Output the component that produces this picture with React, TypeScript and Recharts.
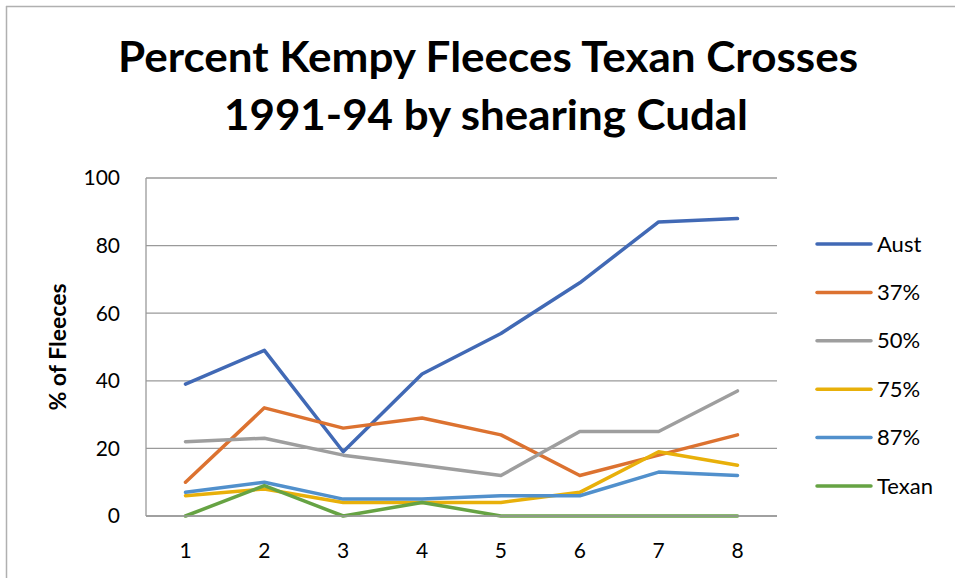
import React from "react";
import { LineChart, Line, XAxis, YAxis, CartesianGrid } from "recharts";

const categories = ["1", "2", "3", "4", "5", "6", "7", "8"];
const aust = [39, 49, 19, 42, 54, 69, 87, 88];
const pct37 = [10, 32, 26, 29, 24, 12, 18, 24];
const pct50 = [22, 23, 18, 15, 12, 25, 25, 37];
const pct75 = [6, 8, 4, 4, 4, 7, 19, 15];
const pct87 = [7, 10, 5, 5, 6, 6, 13, 12];
const texan = [0, 9, 0, 4, 0, 0, 0, 0];
const yTicks = [0, 20, 40, 60, 80, 100];

const seriesNames = ["Aust", "37%", "50%", "75%", "87%", "Texan"];
const seriesValues = [aust, pct37, pct50, pct75, pct87, texan];
const seriesColors = ["#4169B5", "#DC7230", "#9E9E9E", "#E8B00A", "#5190CC", "#66A343"];

const data = categories.map((cat, i) => {
  const row: Record<string, string | number> = { cat };
  seriesNames.forEach((name, s) => {
    row[name] = seriesValues[s][i];
  });
  return row;
});

const FONT = "Lato, 'Open Sans', sans-serif";
const GRID = "#9a9a9a";

export default function App() {
  return (
    <div
      style={{
        position: "absolute",
        left: 0,
        top: 0,
        width: 955,
        height: 578,
        overflow: "hidden",
        background: "#fff",
        fontFamily: FONT,
      }}
    >
      <LineChart
        width={955}
        height={578}
        data={data}
        margin={{ top: 178, right: 178, bottom: 22, left: 0 }}
      >
        <CartesianGrid vertical={false} stroke={GRID} strokeWidth={1.3} />
        <XAxis
          dataKey="cat"
          height={40}
          padding={{ left: 39.5, right: 39.5 }}
          tickLine={false}
          tickSize={0}
          tickMargin={27}
          axisLine={{ stroke: GRID, strokeWidth: 1.3 }}
          tick={{ fill: "#000", fontSize: 21, fontFamily: FONT }}
        />
        <YAxis
          width={146}
          domain={[0, 100]}
          ticks={yTicks}
          tickLine={false}
          tickSize={0}
          tickMargin={26}
          axisLine={{ stroke: GRID, strokeWidth: 1.3 }}
          tick={{ fill: "#000", fontSize: 21, fontFamily: FONT }}
        />
        {seriesNames.map((name, s) => (
          <Line
            key={name}
            type="linear"
            dataKey={name}
            stroke={seriesColors[s]}
            strokeWidth={3.5}
            strokeLinejoin="round"
            strokeLinecap="round"
            dot={false}
            isAnimationActive={false}
          />
        ))}
      </LineChart>

      {/* title, frame, axis title and legend */}
      <svg
        width={955}
        height={578}
        style={{ position: "absolute", left: 0, top: 0, pointerEvents: "none" }}
      >
        <line x1={6.5} y1={6} x2={6.5} y2={578} stroke="#b0b0b0" strokeWidth={1.5} />
        <line x1={6} y1={6.5} x2={955} y2={6.5} stroke="#b0b0b0" strokeWidth={1.5} />

        <text
          x={488}
          y={72}
          textAnchor="middle"
          fontFamily={FONT}
          fontWeight="bold"
          fontSize={42}
          textLength={740}
          lengthAdjust="spacingAndGlyphs"
        >
          Percent Kempy Fleeces Texan Crosses
        </text>
        <text
          x={486}
          y={130}
          textAnchor="middle"
          fontFamily={FONT}
          fontWeight="bold"
          fontSize={42}
          textLength={524}
          lengthAdjust="spacingAndGlyphs"
        >
          1991-94 by shearing Cudal
        </text>

        <text
          transform="translate(66, 347) rotate(-90)"
          textAnchor="middle"
          fontFamily={FONT}
          fontWeight="bold"
          fontSize={23}
        >
          % of Fleeces
        </text>

        {seriesNames.map((name, s) => {
          const cy = 244 + s * 48.4;
          return (
            <g key={name}>
              <line
                x1={817}
                y1={cy}
                x2={871}
                y2={cy}
                stroke={seriesColors[s]}
                strokeWidth={3.5}
                strokeLinecap="round"
              />
              <text x={877} y={cy + 7.5} fontFamily={FONT} fontSize={22} fill="#000">
                {name}
              </text>
            </g>
          );
        })}
      </svg>
    </div>
  );
}
